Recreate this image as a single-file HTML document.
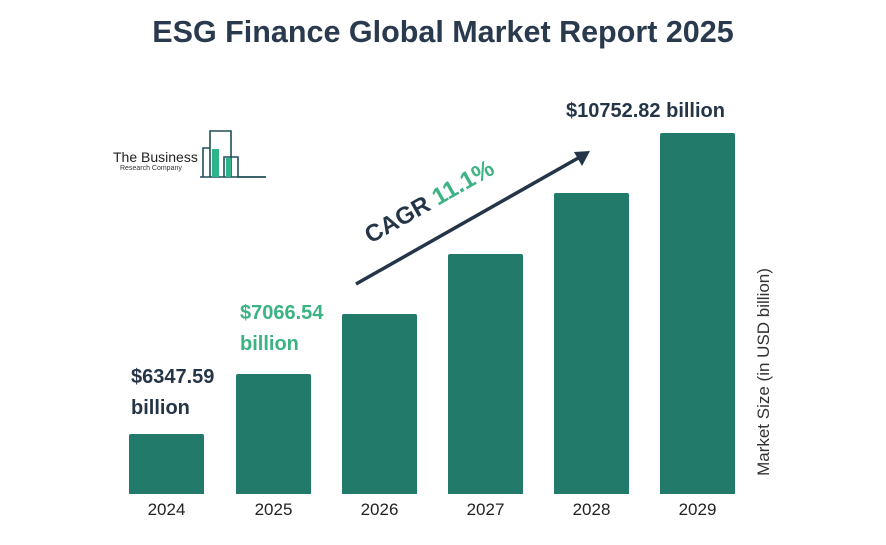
<!DOCTYPE html>
<html><head><style>
body{margin:0;width:886px;height:545px;background:#fff;font-family:"Liberation Sans",sans-serif;position:relative;overflow:hidden}
.t{position:absolute;white-space:nowrap}
.bar{position:absolute;background:#217a6a;width:75px;border-radius:2px 2px 0 0}
.yr{position:absolute;top:500px;width:75px;text-align:center;font-size:17px;color:#222}
</style></head><body>
<div class="t" style="left:0;width:886px;text-align:center;top:15px;font-size:30.5px;font-weight:bold;color:#2a3a4e">ESG Finance Global Market Report 2025</div>

<svg style="position:absolute;left:0;top:0" width="886" height="545">
<g fill="none" stroke="#1f4f57" stroke-width="1.6">
<polyline points="203,177 203,148 210,148"/>
<polyline points="210,177 210,131 231,131 231,177"/>
<polyline points="224,177 224,157 238,157 238,177 266,177"/>
<line x1="200" y1="177" x2="266" y2="177"/>
</g>
<rect x="212" y="149" width="7" height="28" fill="#2fb38a"/>
<rect x="226" y="158" width="5" height="19" fill="#2fb38a"/>
<line x1="356" y1="284" x2="580" y2="157" stroke="#253548" stroke-width="3.5"/>
<polygon points="590,151 574,152 582,166" fill="#253548"/>
</svg>
<div class="t" style="left:113px;top:149px;font-size:14px;color:#222">The Business</div>
<div class="t" style="left:120px;top:165px;font-size:7px;color:#333">Research Company</div>

<div class="t" style="left:374px;top:222px;font-size:24px;font-weight:bold;color:#253548;transform:rotate(-29.5deg);transform-origin:left bottom">CAGR <span style="color:#3bb383">11.1%</span></div>

<div class="bar" style="left:129px;top:434px;height:60px"></div>
<div class="bar" style="left:236px;top:374px;height:120px"></div>
<div class="bar" style="left:342px;top:314px;height:180px"></div>
<div class="bar" style="left:448px;top:254px;height:240px"></div>
<div class="bar" style="left:554px;top:193px;height:301px"></div>
<div class="bar" style="left:660px;top:133px;height:361px"></div>

<div class="yr" style="left:129px">2024</div>
<div class="yr" style="left:236px">2025</div>
<div class="yr" style="left:342px">2026</div>
<div class="yr" style="left:448px">2027</div>
<div class="yr" style="left:554px">2028</div>
<div class="yr" style="left:660px">2029</div>

<div class="t" style="left:131px;top:362px;font-size:20px;font-weight:bold;color:#253548;line-height:31px">$6347.59<br>billion</div>
<div class="t" style="left:240px;top:298px;font-size:20px;font-weight:bold;color:#3bb383;line-height:31px">$7066.54<br>billion</div>
<div class="t" style="left:566px;top:100px;font-size:20px;font-weight:bold;color:#253548">$10752.82 billion</div>

<div class="t" style="left:764px;top:372px;font-size:17px;color:#333;transform:translate(-50%,-50%) rotate(-90deg)">Market Size (in USD billion)</div>
</body></html>
